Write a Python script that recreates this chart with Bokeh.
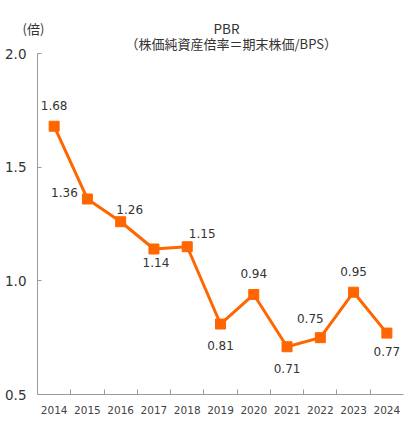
from bokeh.plotting import figure
from bokeh.models import Range1d, FixedTicker, ColumnDataSource, NumeralTickFormatter, Title
from bokeh.core.properties import value
from bokeh.embed import file_html
from bokeh.resources import INLINE

years = [2014, 2015, 2016, 2017, 2018, 2019, 2020, 2021, 2022, 2023, 2024]
pbr = [1.68, 1.36, 1.26, 1.14, 1.15, 0.81, 0.94, 0.71, 0.75, 0.95, 0.77]
labels = ["1.68", "1.36", "1.26", "1.14", "1.15", "0.81", "0.94", "0.71", "0.75", "0.95", "0.77"]
y_ticks = [0.5, 1.0, 1.5, 2.0]
title_1 = "PBR"
title_2 = "（株価純資産倍率＝期末株価/BPS）"
unit = "(倍)"

# label offsets in screen pixels (style)
dx = [0, -23, 9, 2, 15, 0, 0, 0, -10, 0, 0]
dy = [-21, -6, -12, 13, -13, 21, -21, 22, -19, -21, 18]

JP = "Noto Sans CJK JP"
NUM = "DejaVu Sans"
ORANGE = "#FF6600"
TEXT = "#333333"

p = figure(width=406, height=420, output_backend="svg", toolbar_location=None,
           x_range=Range1d(2013.5, 2024.5), y_range=Range1d(0.5, 2.0),
           min_border_left=37, min_border_right=3, min_border_top=53, min_border_bottom=26)
p.outline_line_color = None
p.xgrid.visible = False
p.ygrid.visible = False

src = ColumnDataSource(dict(x=years, y=pbr, t=labels, dx=dx, dy=dy))
p.line("x", "y", source=src, line_color=ORANGE, line_width=3)
p.scatter("x", "y", source=src, marker="square", size=10, fill_color=ORANGE, line_color=ORANGE)
p.text("x", "y", text="t", source=src, x_offset="dx", y_offset="dy",
       text_font=value(NUM), text_font_size="12px", text_color=TEXT,
       text_align="center", text_baseline="middle")

xa = p.xaxis[0]
xa.ticker = FixedTicker(ticks=years, minor_ticks=[y + 0.5 for y in years[:-1]])
xa.major_tick_line_color = None
xa.minor_tick_in = 5
xa.minor_tick_out = 0
xa.minor_tick_line_color = "#999999"
xa.axis_line_color = "#999999"
xa.major_label_text_font = NUM
xa.major_label_text_font_size = "10.5px"
xa.major_label_text_color = "#444444"
xa.major_label_standoff = 5

ya = p.yaxis[0]
ya.ticker = FixedTicker(ticks=y_ticks, minor_ticks=[])
ya.formatter = NumeralTickFormatter(format="0.0")
ya.major_tick_in = 4
ya.major_tick_out = 0
ya.major_tick_line_color = "#999999"
ya.minor_tick_line_color = None
ya.axis_line_color = "#999999"
ya.major_label_text_font = NUM
ya.major_label_text_font_size = "13.5px"
ya.major_label_text_color = "#333333"
ya.major_label_standoff = 11

p.add_layout(Title(text=title_2, align="left", offset=88, standoff=1,
                   text_font=JP, text_font_size="13px", text_font_style="normal",
                   text_color=TEXT), "above")
p.add_layout(Title(text=unit, align="left", offset=-15, standoff=-13,
                   text_font=JP, text_font_size="13px", text_font_style="normal",
                   text_color=TEXT), "above")
p.title.text = title_1
p.title.align = "left"
p.title.offset = 176
p.title.standoff = -28
p.title.text_font = JP
p.title.text_font_size = "13.5px"
p.title.text_font_style = "normal"
p.title.text_color = TEXT

open("out.html", "w").write(file_html(p, INLINE))
